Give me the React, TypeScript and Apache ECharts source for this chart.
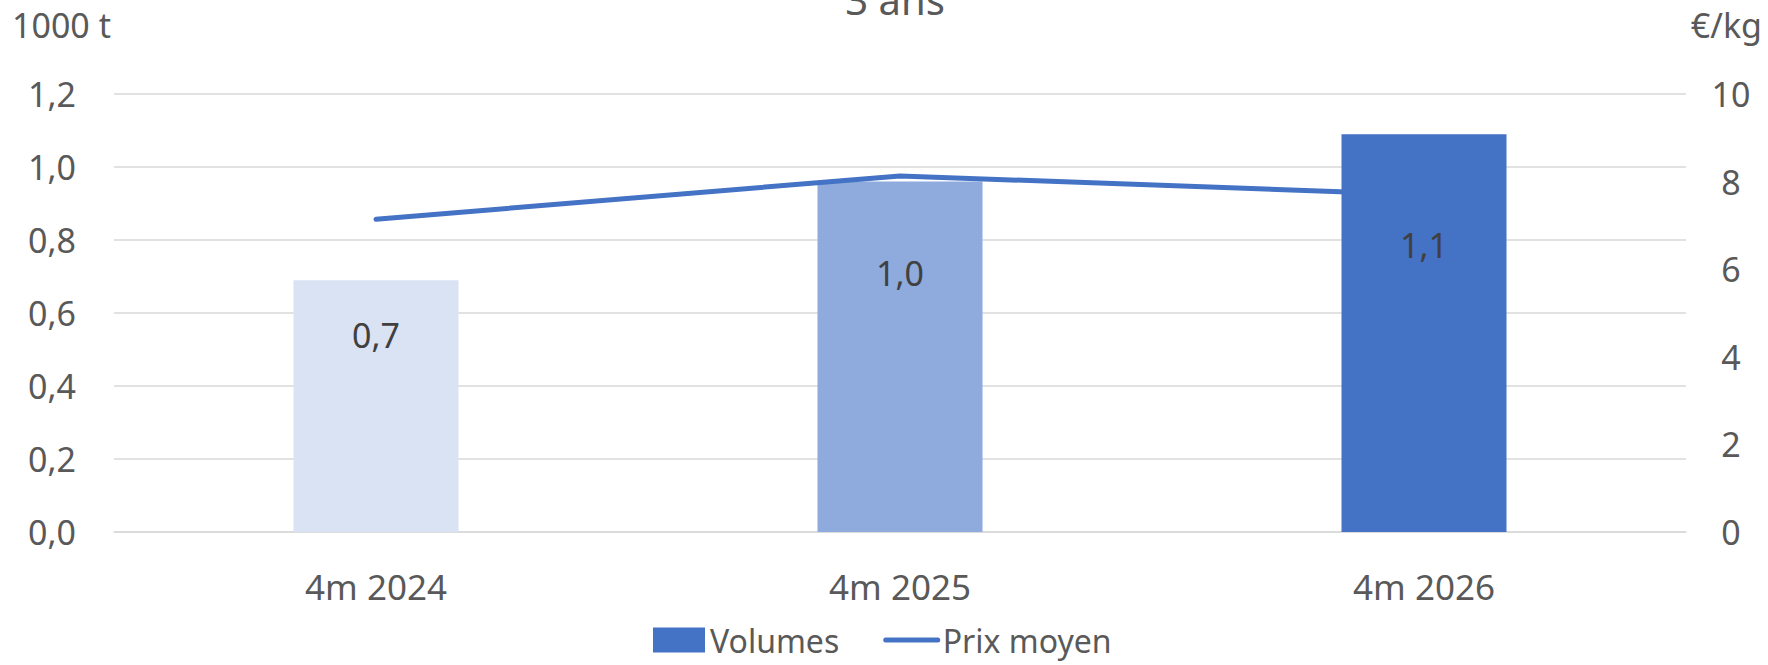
import React, { useEffect, useRef } from "react";
import * as echarts from "echarts";

const categories = ["4m 2024", "4m 2025", "4m 2026"];
const volumes = [0.69, 0.96, 1.09];
const prixMoyen = [7.14, 8.13, 7.7];
const barColors = ["#DAE3F3", "#8FAADC", "#4472C4"];
const titleText = "3 ans";
const leftUnit = "1000 t";
const rightUnit = "€/kg";

const FONT = "'Noto Sans', sans-serif";
const GREY = "#595959";
const labelDy = [55, 91, 111];

const fmt1 = (v: number) => v.toFixed(1).replace(".", ",");

export default function App() {
  const ref = useRef<HTMLDivElement>(null);
  useEffect(() => {
    if (!ref.current) return;
    const chart = echarts.init(ref.current, null, { renderer: "svg" });
    chart.setOption({
      animation: false,
      textStyle: { fontFamily: FONT },
      title: {
        text: titleText,
        left: 890,
        top: -26,
        textAlign: "center",
        textStyle: { fontFamily: FONT, fontSize: 40, fontWeight: "normal", color: GREY },
      },
      graphic: [
        {
          type: "text",
          left: 12,
          top: 8,
          style: { text: leftUnit, font: `34px ${FONT}`, fill: GREY },
        },
        {
          type: "text",
          right: 6,
          top: 8,
          style: { text: rightUnit, font: `34px ${FONT}`, fill: GREY },
        },
      ],
      grid: { left: 114, right: 82, top: 94, bottom: 133, containLabel: false },
      legend: {
        left: 653,
        top: 624,
        padding: 0,
        itemWidth: 52,
        itemHeight: 25,
        itemGap: 44,
        textStyle: { fontFamily: FONT, fontSize: 32, color: GREY },
        data: [
          { name: "Volumes", icon: "rect", itemStyle: { color: "#4472C4" } },
          {
            name: "Prix moyen",
            itemStyle: { opacity: 0 },
            lineStyle: { width: 5, cap: "round", color: "#4472C4" },
          },
        ],
      },
      xAxis: {
        type: "category",
        data: categories,
        axisTick: { show: false },
        axisLine: { show: true, lineStyle: { color: "#D9D9D9", width: 1.5 } },
        axisLabel: { color: GREY, fontSize: 35, fontFamily: FONT, margin: 37 },
      },
      yAxis: [
        {
          type: "value",
          min: 0,
          max: 1.2,
          interval: 0.2,
          axisLine: { show: false },
          axisTick: { show: false },
          splitLine: { lineStyle: { color: "#D9D9D9", width: 1.5 } },
          axisLabel: {
            color: GREY,
            fontSize: 34,
            fontFamily: FONT,
            margin: 38,
            formatter: (v: number) => fmt1(v),
          },
        },
        {
          type: "value",
          min: 0,
          max: 10,
          interval: 2,
          axisLine: { show: false },
          axisTick: { show: false },
          splitLine: { show: false },
          axisLabel: {
            color: GREY,
            fontSize: 34,
            fontFamily: FONT,
            margin: 45,
            align: "center",
          },
        },
      ],
      series: [
        {
          name: "Volumes",
          type: "bar",
          yAxisIndex: 0,
          barWidth: 165,
          itemStyle: { color: "#4472C4" },
          data: volumes.map((v, i) => ({
            value: v,
            itemStyle: { color: barColors[i] },
            label: {
              show: true,
              position: ["50%", labelDy[i]],
              align: "center",
              verticalAlign: "middle",
              color: "#404040",
              fontSize: 34,
              fontFamily: FONT,
              formatter: (p: any) => fmt1(p.value),
            },
          })),
        },
        {
          name: "Prix moyen",
          type: "line",
          yAxisIndex: 1,
          symbol: "none",
          lineStyle: { color: "#4472C4", width: 5, cap: "round", join: "round" },
          itemStyle: { color: "#4472C4" },
          data: prixMoyen,
          z: 3,
        },
      ],
    });
    return () => chart.dispose();
  }, []);
  return (
    <div
      ref={ref}
      style={{ position: "fixed", left: 0, top: 0, width: 1768, height: 665, background: "#fff" }}
    />
  );
}
